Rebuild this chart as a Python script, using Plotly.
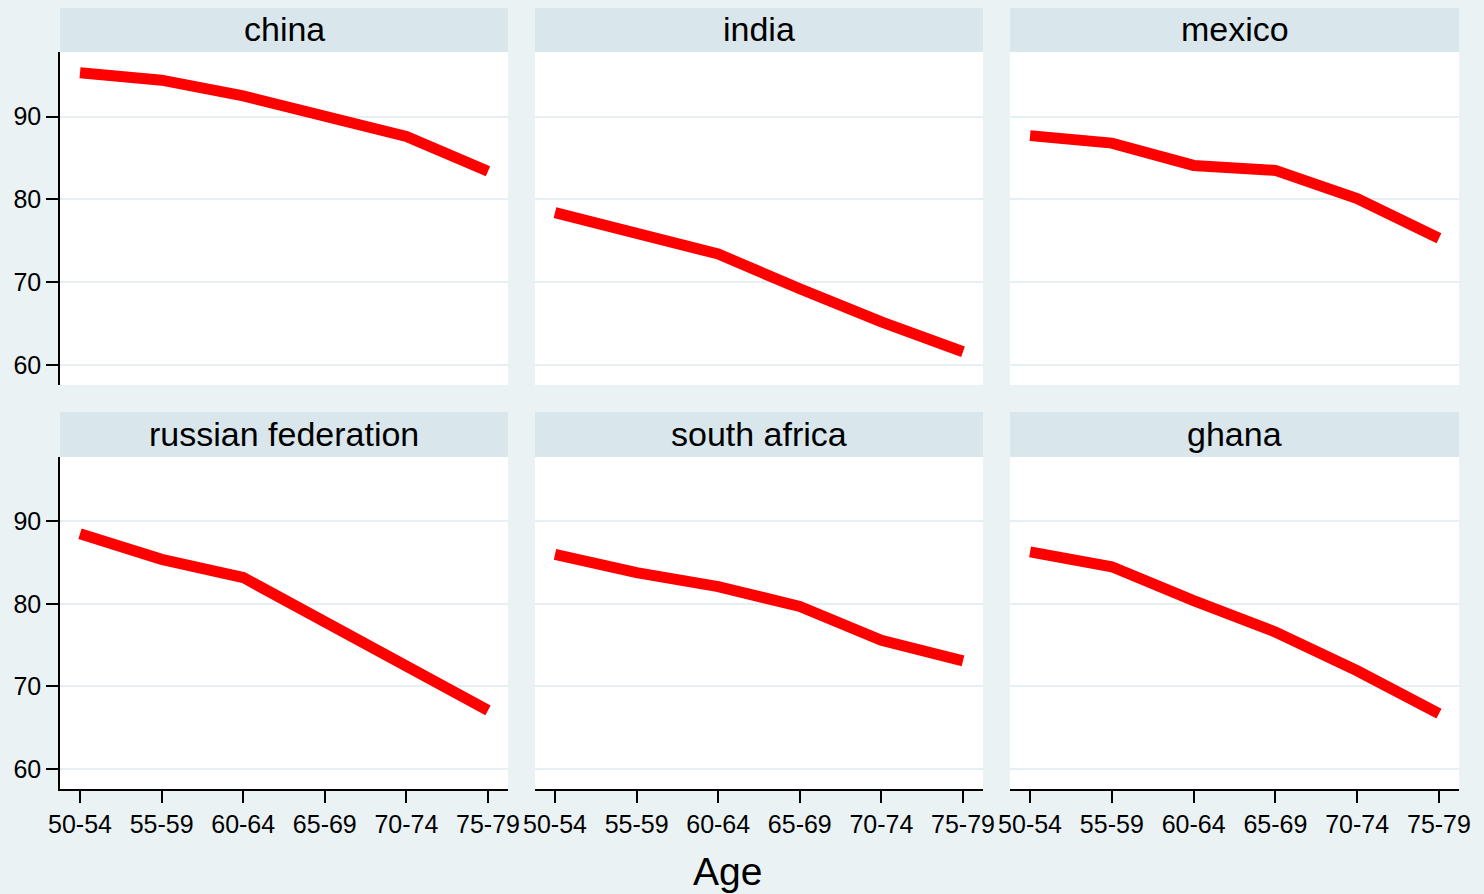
import plotly.graph_objects as go

ages = ["50-54", "55-59", "60-64", "65-69", "70-74", "75-79"]
countries = ["china", "india", "mexico", "russian federation", "south africa", "ghana"]
china = [95.3, 94.4, 92.5, 90.2, 87.6, 83.4]
india = [78.4, 75.9, 73.4, 69.2, 65.2, 61.6]
mexico = [87.7, 86.8, 84.1, 83.5, 80.1, 75.3]
russia = [88.5, 85.4, 83.2, 77.8, 72.6, 67.1]
south_africa = [86.0, 83.8, 82.1, 79.7, 75.6, 73.1]
ghana = [86.3, 84.5, 80.4, 76.6, 71.9, 66.7]
series = [china, india, mexico, russia, south_africa, ghana]
yticks = [60, 70, 80, 90]

W, H = 1484, 894
BG = "#EAF2F3"
STRIP = "#D9E6EB"
GRID = "#E6EFF2"
FONT = "Liberation Sans, Arial, Helvetica, sans-serif"

col_px = [(60, 508), (535, 983), (1010, 1459)]
row_plot_px = [(52, 385), (457, 789)]
row_head_px = [(8, 52), (412, 457)]

fig = go.Figure()
layout = dict(
    width=W, height=H,
    margin=dict(l=0, r=0, t=0, b=0, pad=0, autoexpand=False),
    paper_bgcolor=BG, plot_bgcolor="white",
    showlegend=False,
    font=dict(family=FONT, color="black"),
)
shapes = []
annotations = []
xpos = list(range(len(ages)))
for i, (name, vals) in enumerate(zip(countries, series)):
    r, c = divmod(i, 3)
    n = i + 1
    xa = "x" if n == 1 else f"x{n}"
    ya = "y" if n == 1 else f"y{n}"
    fig.add_trace(go.Scatter(x=xpos, y=vals, mode="lines",
                             line=dict(color="#FF0000", width=11),
                             xaxis=xa, yaxis=ya, hoverinfo="skip"))
    x0, x1 = col_px[c]
    y0, y1 = row_plot_px[r]
    bottom = r == 1
    left = c == 0
    layout["xaxis" if n == 1 else f"xaxis{n}"] = dict(
        domain=[x0 / W, x1 / W], anchor=ya, automargin=False,
        range=[-0.245, 5.245],
        tickvals=xpos, ticktext=ages,
        showticklabels=bottom,
        ticks="outside" if bottom else "", ticklen=12, tickwidth=1.5, tickcolor="black",
        showline=bottom, linecolor="black", linewidth=1.5,
        showgrid=False, zeroline=False,
        tickfont=dict(size=25, family=FONT, color="black"),
        ticklabelstandoff=0,
    )
    layout["yaxis" if n == 1 else f"yaxis{n}"] = dict(
        domain=[1 - y1 / H, 1 - y0 / H], anchor=xa, automargin=False,
        range=[57.58, 97.8],
        tickvals=yticks,
        showticklabels=left,
        ticks="outside" if left else "", ticklen=12, tickwidth=1.5, tickcolor="black",
        showline=left, linecolor="black", linewidth=1.5,
        showgrid=True, gridcolor=GRID, gridwidth=2,
        zeroline=False,
        tickfont=dict(size=25, family=FONT, color="black"),
        ticklabelstandoff=0,
    )
    hy0, hy1 = row_head_px[r]
    shapes.append(dict(type="rect", xref="paper", yref="paper",
                       x0=x0 / W, x1=x1 / W, y0=1 - hy1 / H, y1=1 - hy0 / H,
                       fillcolor=STRIP, line=dict(width=0), layer="below"))
    annotations.append(dict(text=name, xref="paper", yref="paper",
                            x=(x0 + x1) / 2 / W, y=1 - (hy0 + hy1 - 2) / 2 / H,
                            xanchor="center", yanchor="middle", showarrow=False,
                            font=dict(size=34, family=FONT, color="black")))

annotations.append(dict(text="Age", xref="paper", yref="paper",
                        x=727.5 / W, y=1 - 871 / H, xanchor="center", yanchor="middle",
                        showarrow=False, font=dict(size=39, family=FONT, color="black")))
layout["shapes"] = shapes
layout["annotations"] = annotations
fig.update_layout(**layout)
fig.write_html("out.html", config={"displayModeBar": False},
               post_script="document.body.style.margin='0';document.body.style.overflow='hidden';")
